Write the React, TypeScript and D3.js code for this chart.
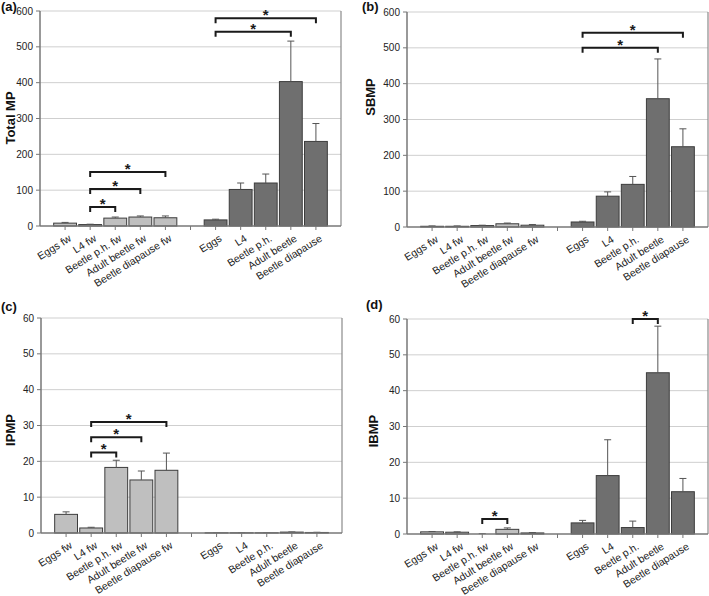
import React from "react";
import * as d3 from "d3";

const categories = [
  "Eggs fw", "L4 fw", "Beetle p.h. fw", "Adult beetle fw", "Beetle diapause fw",
  "",
  "Eggs", "L4", "Beetle p.h.", "Adult beetle", "Beetle diapause",
];
const fwGroup = [true, true, true, true, true, false, false, false, false, false, false];

const totalMP = [8, 4, 22, 25, 23, null, 17, 102, 120, 403, 236];
const totalMPErr = [10, 5, 25, 28, 28, null, 19, 120, 145, 516, 286];
const sbmp = [2, 2, 4, 9, 5, null, 14, 86, 119, 358, 224];
const sbmpErr = [3, 3, 5, 11, 7, null, 16, 98, 141, 469, 274];
const ipmp = [5.2, 1.4, 18.3, 14.8, 17.5, null, 0.05, 0.05, 0.05, 0.25, 0.15];
const ipmpErr = [5.9, 1.6, 20.3, 17.3, 22.3, null, 0.1, 0.1, 0.1, 0.3, 0.2];
const ibmp = [0.6, 0.5, 0, 1.3, 0.3, null, 3.1, 16.3, 1.8, 45, 11.8];
const ibmpErr = [0.7, 0.6, 0.1, 1.7, 0.4, null, 3.8, 26.3, 3.6, 58, 15.5];

const ticksBig = [0, 100, 200, 300, 400, 500, 600];
const ticksSmall = [0, 10, 20, 30, 40, 50, 60];

// brackets: [fromIndex, toIndex, yValue]
const bracketsA: [number, number, number][] = [
  [1, 2, 53], [1, 3, 103], [1, 4, 151], [6, 9, 542], [6, 10, 580],
];
const bracketsB: [number, number, number][] = [[6, 9, 500], [6, 10, 542]];
const bracketsC: [number, number, number][] = [[1, 2, 22.5], [1, 3, 26.7], [1, 4, 31.0]];
const bracketsD: [number, number, number][] = [[2, 3, 4.2], [8, 9, 60]];

const FONT = "'Liberation Sans', Arial, Helvetica, sans-serif";
const W = 301;
const H = 215;

type PanelProps = {
  left: number; top: number; label: string; labelX: number; labelY: number;
  title: string; titleX: number; titleY: number;
  values: (number | null)[]; errs: (number | null)[];
  ticks: number[]; brackets: [number, number, number][];
};

function Panel(p: PanelProps) {
  const x = d3.scaleLinear().domain([0, 12]).range([0, W]);
  const y = d3.scaleLinear().domain([0, p.ticks[p.ticks.length - 1]]).range([H, 0]);
  const slot = x(1) - x(0);
  const bw = slot * 0.91;
  return (
    <g>
      <text x={p.labelX} y={p.labelY} fontFamily={FONT} fontWeight="bold" fontSize={13} fill="#111">{p.label}</text>
      <text transform={`translate(${p.titleX},${p.titleY}) rotate(-90)`} textAnchor="middle" dominantBaseline="middle"
        fontFamily={FONT} fontWeight="bold" fontSize={13} fill="#111">{p.title}</text>
      <g transform={`translate(${p.left},${p.top})`}>
        {p.ticks.slice(1).map((t) => (
          <line key={"g" + t} x1={0} x2={W} y1={y(t)} y2={y(t)} stroke="#cfcfcf" strokeWidth={1} />
        ))}
        <line x1={W} x2={W} y1={y(p.ticks[p.ticks.length - 1])} y2={H} stroke="#8a8a8a" strokeWidth={1.2} />
        {p.ticks.map((t) => (
          <g key={"t" + t}>
            <line x1={-4} x2={0} y1={y(t)} y2={y(t)} stroke="#777" strokeWidth={1} />
            <text x={-7} y={y(t)} dy="0.35em" textAnchor="end" fontFamily={FONT} fontSize={10} fill="#222">{t}</text>
          </g>
        ))}
        {p.values.map((v, i) => {
          if (v === null) return null;
          const cx = x(i + 1);
          const e = p.errs[i] as number;
          return (
            <g key={"b" + i}>
              <rect x={cx - bw / 2} y={y(v)} width={bw} height={H - y(v)}
                fill={fwGroup[i] ? "#bfbfbf" : "#6f6f6f"} stroke="#3c3c3c" strokeWidth={1} />
              <line x1={cx} x2={cx} y1={y(v)} y2={y(e)} stroke="#555" strokeWidth={1} />
              <line x1={cx - 3.5} x2={cx + 3.5} y1={y(e)} y2={y(e)} stroke="#555" strokeWidth={1} />
            </g>
          );
        })}
        <line x1={0} x2={0} y1={0} y2={H} stroke="#777" strokeWidth={1.5} />
        <line x1={0} x2={W} y1={H} y2={H} stroke="#777" strokeWidth={1.5} />
        {categories.map((c, i) => (
          <line key={"xt" + i} x1={x(i + 1)} x2={x(i + 1)} y1={H} y2={H + 4} stroke="#777" strokeWidth={1} />
        ))}
        {categories.map((c, i) =>
          c ? (
            <text key={"xl" + i} transform={`translate(${x(i + 1) + 3},${H + 8}) rotate(-32)`}
              textAnchor="end" dy="0.71em" fontFamily={FONT} fontSize={10.5} fill="#222">{c}</text>
          ) : null
        )}
        {p.brackets.map(([a, b, v], k) => {
          const x1 = x(a + 1), x2 = x(b + 1), yy = y(v);
          return (
            <g key={"br" + k}>
              <path d={`M${x1},${yy + 5}V${yy}H${x2}V${yy + 5}`} fill="none" stroke="#1a1a1a" strokeWidth={2} />
              <text x={(x1 + x2) / 2} y={yy + 2} textAnchor="middle" fontFamily={FONT} fontWeight="bold" fontSize={15} fill="#1a1a1a">*</text>
            </g>
          );
        })}
      </g>
    </g>
  );
}

export default function App() {
  return (
    <svg width={709} height={596} style={{ position: "absolute", left: 0, top: 0, background: "#fff" }}>
      <rect width={709} height={596} fill="#fff" />
      <Panel left={40} top={11} label="(a)" labelX={1} labelY={11} title="Total MP" titleX={12} titleY={118}
        values={totalMP} errs={totalMPErr} ticks={ticksBig} brackets={bracketsA} />
      <Panel left={407} top={12} label="(b)" labelX={362} labelY={11} title="SBMP" titleX={372} titleY={97}
        values={sbmp} errs={sbmpErr} ticks={ticksBig} brackets={bracketsB} />
      <Panel left={41} top={318} label="(c)" labelX={1} labelY={311} title="IPMP" titleX={12} titleY={430}
        values={ipmp} errs={ipmpErr} ticks={ticksSmall} brackets={bracketsC} />
      <Panel left={407} top={319} label="(d)" labelX={366} labelY={309} title="IBMP" titleX={375} titleY={431}
        values={ibmp} errs={ibmpErr} ticks={ticksSmall} brackets={bracketsD} />
    </svg>
  );
}
